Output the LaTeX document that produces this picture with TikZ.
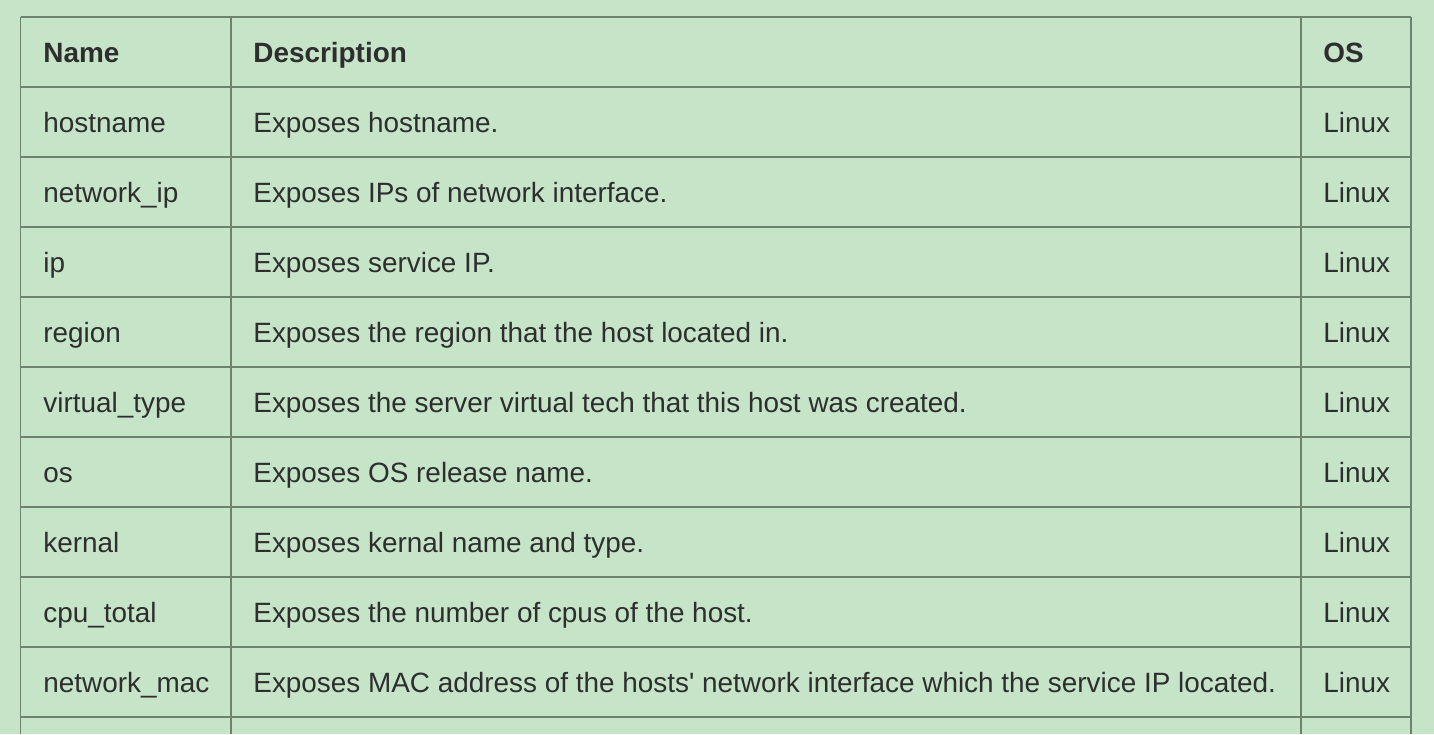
\documentclass[tikz,border=0pt]{standalone}
\usepackage{fontspec}
\setmainfont{Liberation Sans}[Ligatures=TeXOff]
\definecolor{tablegreen}{HTML}{C6E4C8}
\definecolor{gridgray}{HTML}{6E826F}
\definecolor{celltext}{HTML}{2E2E2E}
\tikzstyle{cell}=[anchor=base west, inner sep=0pt, text=celltext, font={\fontsize{13.95}{16}\selectfont}]
\tikzstyle{head}=[cell, font={\fontsize{13.95}{16}\selectfont\bfseries}]
\tikzstyle{rule}=[draw=gridgray, line width=.7pt]

\begin{document}
\begin{tikzpicture}[x=.5pt, y=-.5pt]

    \fill[tablegreen] (0, 0) rectangle (1434, 734);
    \useasboundingbox (0, 0) rectangle (1434, 734);

    % grid
    \foreach \k in {0,...,10}
        \draw[rule] (20.5, 17+70*\k) -- (1411, 17+70*\k);
    \foreach \c in {20.5, 231, 1301, 1411}
        \draw[rule] (\c, 17) -- (\c, 734);

    % header
    \node[head] (name-0) at (43, 62) {Name};
    \node[head] (desc-0) at (253, 62) {Description};
    \node[head] (os-0) at (1323, 62) {OS};

    % rows
    \foreach \i/\n/\d in {
        1/{hostname}/{Exposes hostname.},
        2/{network\_ip}/{Exposes IPs of network interface.},
        3/{ip}/{Exposes service IP.},
        4/{region}/{Exposes the region that the host located in.},
        5/{virtual\_type}/{Exposes the server virtual tech that this host was created.},
        6/{os}/{Exposes OS release name.},
        7/{kernal}/{Exposes kernal name and type.},
        8/{cpu\_total}/{Exposes the number of cpus of the host.},
        9/{network\_mac}/{Exposes MAC address of the hosts' network interface which the service IP located.}} {
        \node[cell] (name-\i) at (43, 62+70*\i) {\n};
        \node[cell] (desc-\i) at (253, 62+70*\i) {\d};
        \node[cell] (os-\i) at (1323, 62+70*\i) {Linux};
    }

\end{tikzpicture}
\end{document}
